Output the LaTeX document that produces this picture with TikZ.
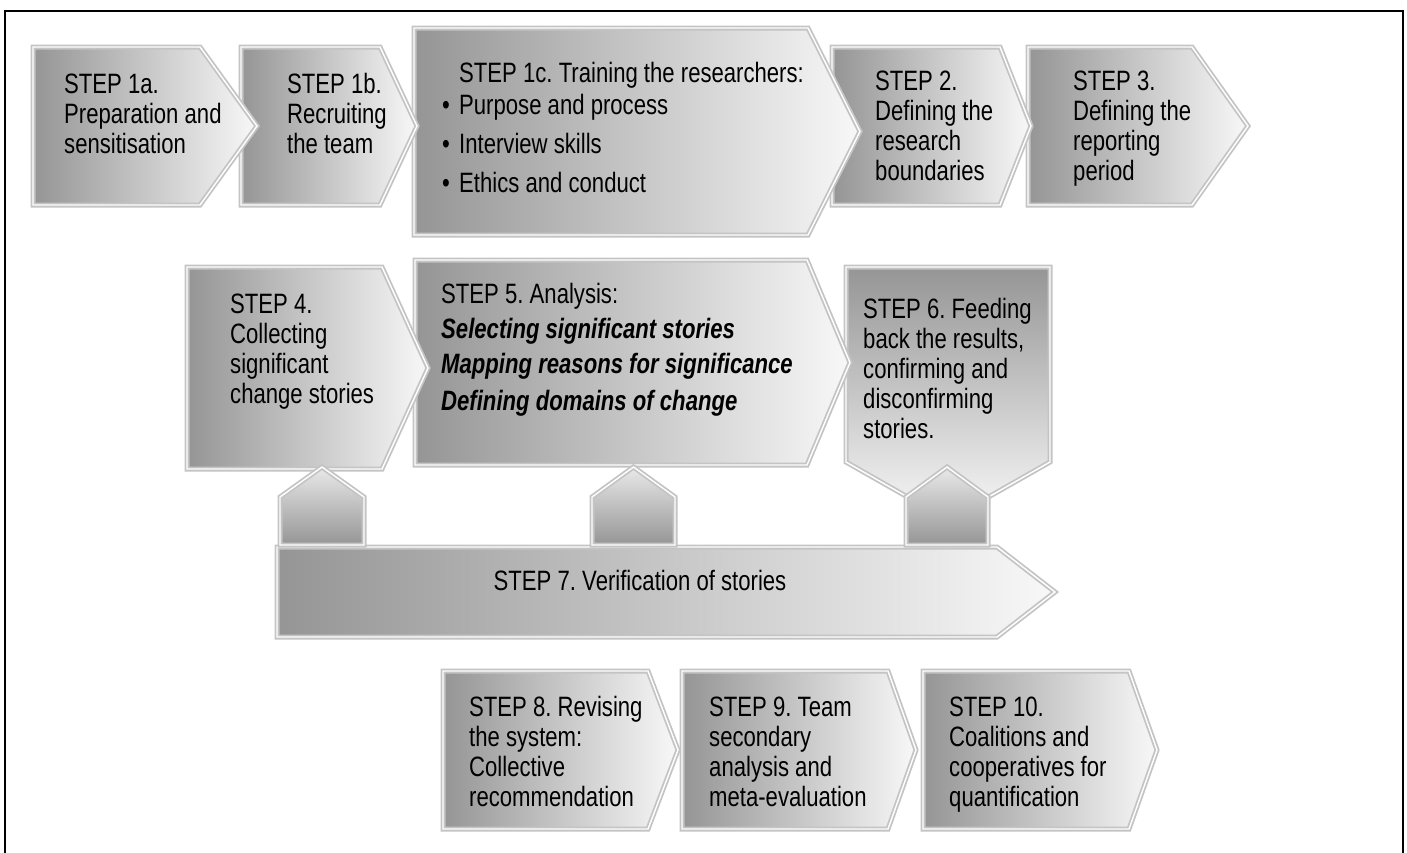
\documentclass[tikz,border=0pt]{standalone}
\usepackage{fontspec}
\setmainfont{Liberation Sans}[FakeStretch=0.79]
\definecolor{shdark}{HTML}{959595}
\definecolor{shlight}{HTML}{F8F8F8}
\definecolor{rim}{HTML}{C4C4C4}
\newcommand{\ChevH}[5]{%
  \path[hfill] (#1,#2) -- (#4,#2) -- (#5,{(#2+#3)/2}) -- (#4,#3) -- (#1,#3) -- cycle;
  \draw[dline] (#1,#2) -- (#4,#2) -- (#5,{(#2+#3)/2}) -- (#4,#3) -- (#1,#3) -- cycle;}
\newcommand{\UpPent}[2]{%
  \path[upfill] (#1,545) -- (#1,497) -- ({(#1+#2)/2},467) -- (#2,497) -- (#2,545) -- cycle;
  \draw[dline] (#1,545) -- (#1,497) -- ({(#1+#2)/2},467) -- (#2,497) -- (#2,545) -- cycle;}
\begin{document}
\frenchspacing
\begin{tikzpicture}[x=1pt,y=-1pt,
  dline/.style={draw=rim, line width=1.8pt, double=white, double distance=1.4pt, line join=miter},
  hfill/.style={left color=shdark, right color=shlight},
  vfill/.style={top color=shdark, bottom color=shlight},
  upfill/.style={top color=shlight!85!shdark, bottom color=shdark},
  txt/.style={anchor=base west, inner sep=0pt, font=\fontsize{28pt}{30pt}\selectfont},
  frameline/.style={draw=black, line width=2pt}]
\useasboundingbox (0,0) rectangle (1407,852);
\fill[white] (0,0) rectangle (1407,852);
\draw[frameline] (5,853) -- (5,11) -- (1403,11) -- (1403,853);

% Row 1 (drawn back to front)
\ChevH{1028}{47}{205}{1192}{1248}
\ChevH{832}{47}{205}{1000}{1031}
\ChevH{414}{28}{235}{808}{860}
\ChevH{241}{47}{205}{380}{417}
\ChevH{33}{47}{205}{200}{257}

% Row 2
\path[vfill] (846,267) -- (1050,267) -- (1050,462) -- (948,520) -- (846,462) -- cycle;
\draw[dline] (846,267) -- (1050,267) -- (1050,462) -- (948,520) -- (846,462) -- cycle;
\ChevH{415}{260}{465}{807}{850}
\ChevH{187}{267}{469}{382}{428}

% Step 7 and small connectors
\ChevH{277}{547}{637}{997}{1055}
\UpPent{280}{364}
\UpPent{592}{675}
\UpPent{906}{988}

% Row 3
\ChevH{923}{671}{829}{1129}{1157}
\ChevH{682}{671}{829}{888}{916}
\ChevH{443}{671}{829}{648}{678}

% Texts
\node[txt] (t1a) at (64,93) {\parbox[t]{190pt}{STEP 1a.\\Preparation and\\sensitisation}};
\node[txt] (t1b) at (287,93) {\parbox[t]{130pt}{STEP 1b.\\Recruiting\\the team}};
\node[txt] (t1c) at (459,82) {STEP 1c. Training the researchers:};
\node[txt] (t1c1) at (442,114) {\makebox[17pt][l]{•}Purpose and process};
\node[txt] (t1c2) at (442,153) {\makebox[17pt][l]{•}Interview skills};
\node[txt] (t1c3) at (442,192) {\makebox[17pt][l]{•}Ethics and conduct};
\node[txt] (t2) at (875,90) {\parbox[t]{130pt}{STEP 2.\\Defining the\\research\\boundaries}};
\node[txt] (t3) at (1073,90) {\parbox[t]{130pt}{STEP 3.\\Defining the\\reporting\\period}};

\node[txt] (t4) at (230,313) {\parbox[t]{160pt}{STEP 4.\\Collecting\\significant\\change stories}};
\node[txt] (t5) at (441,303) {STEP 5. Analysis:};
\node[txt] (t5a) at (441,338) {\textbf{\textit{Selecting significant stories}}};
\node[txt] (t5b) at (441,373) {\textbf{\textit{Mapping reasons for significance}}};
\node[txt] (t5c) at (441,410) {\textbf{\textit{Defining domains of change}}};
\node[txt] (t6) at (863,318) {\parbox[t]{180pt}{STEP 6. Feeding\\back the results,\\confirming and\\disconfirming\\stories.}};

\node[txt, anchor=base] (t7) at (640,590) {STEP 7. Verification of stories};

\node[txt] (t8) at (469,716) {\parbox[t]{190pt}{STEP 8. Revising\\the system:\\Collective\\recommendation}};
\node[txt] (t9) at (709,716) {\parbox[t]{190pt}{STEP 9. Team\\secondary\\analysis and\\meta-evaluation}};
\node[txt] (t10) at (949,716) {\parbox[t]{190pt}{STEP 10.\\Coalitions and\\cooperatives for\\quantification}};
\end{tikzpicture}
\end{document}
